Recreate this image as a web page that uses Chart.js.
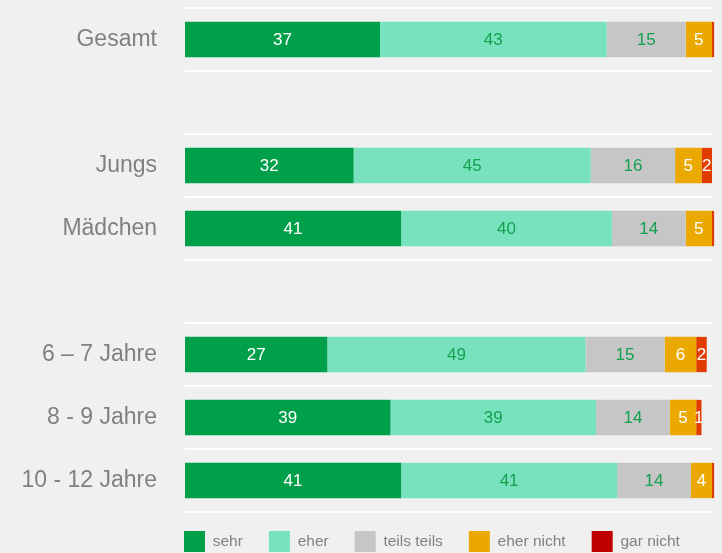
<!DOCTYPE html>
<html>
<head>
<meta charset="utf-8">
<script src="https://cdn.jsdelivr.net/npm/chart.js@4/dist/chart.umd.min.js"></script>
<style>
html,body{margin:0;padding:0;background:#f0f0f0;}
#wrap{width:722px;height:553px;position:relative;}
canvas{display:block;}
</style>
</head>
<body>
<div id="wrap"><canvas id="c" width="722" height="553"></canvas></div>
<script>
// ---- data ----
const categories = ['Gesamt', '', 'Jungs', 'Mädchen', '', '6 – 7 Jahre', '8 - 9 Jahre', '10 - 12 Jahre'];
const seriesNames = ['sehr', 'eher', 'teils teils', 'eher nicht', 'gar nicht'];
const sehr      = [37, null, 32, 41, null, 27, 39, 41];
const eher      = [43, null, 45, 40, null, 49, 39, 41];
const teilsTeils= [15, null, 16, 14, null, 15, 14, 14];
const eherNicht = [5,  null, 5,  5,  null, 6,  5,  4];
const garNicht  = [0.4, null, 2, 0.4, null, 2, 1, 0.4];

// ---- styles ----
const barColors   = ['#00a04b', '#78e2bf', '#c6c6c6', '#eba900', '#e03c00'];
const legendColors= ['#00a04b', '#78e2bf', '#c6c6c6', '#eba900', '#c00000'];
const labelColors = ['#ffffff', '#13a04f', '#13a04f', '#ffffff', '#ffffff'];
const TEXT_GRAY = '#808080';
const FONT = '"Liberation Sans", Arial, sans-serif';

const seriesData = [sehr, eher, teilsTeils, eherNicht, garNicht];

const barLabels = {
  id: 'barLabels',
  afterDatasetsDraw(chart) {
    const ctx = chart.ctx;
    chart.data.datasets.forEach((ds, i) => {
      const meta = chart.getDatasetMeta(i);
      meta.data.forEach((bar, j) => {
        const v = ds.data[j];
        if (v == null || v < 1) return;
        const p = bar.getProps(['x', 'y', 'base'], true);
        ctx.save();
        ctx.fillStyle = labelColors[i];
        ctx.font = '17px ' + FONT;
        ctx.textAlign = 'center';
        ctx.textBaseline = 'middle';
        ctx.fillText(String(v), (p.x + p.base) / 2, p.y + 1);
        ctx.restore();
      });
    });
  }
};

const legendTweak = {
  id: 'legendTweak',
  beforeLayout(chart) {
    const lg = chart.legend;
    if (lg && !lg._patched) {
      const f = lg.fit;
      lg.fit = function () { f.call(this); this.height = 41; };
      lg._patched = true;
    }
  },
  beforeDraw(chart) {
    const lg = chart.legend;
    if (!lg) return;
    const pad = lg.options.labels.padding;
    lg.left = chart.chartArea.left - 1 - pad;
    lg.right = chart.width;
    lg.width = lg.right - lg.left;
    lg.top = chart.chartArea.bottom + 19 - pad;
  }
};

new Chart(document.getElementById('c'), {
  type: 'bar',
  data: {
    labels: categories,
    datasets: seriesNames.map((name, i) => ({
      label: name,
      data: seriesData[i],
      backgroundColor: barColors[i],
      borderWidth: 0,
      clip: false,
      categoryPercentage: 1,
      barPercentage: 0.56
    }))
  },
  options: {
    indexAxis: 'y',
    responsive: false,
    animation: false,
    devicePixelRatio: 1,
    layout: { padding: { top: 8, right: 10, left: 0, bottom: 0 } },
    scales: {
      x: { stacked: true, min: 0, max: 100, display: false },
      y: {
        stacked: true,
        afterFit(scale) { scale.width = 185; scale.paddingTop = 0; scale.paddingBottom = 0; },
        border: { display: false },
        grid: { color: '#ffffff', lineWidth: 2, drawTicks: false, offset: true },
        ticks: { color: TEXT_GRAY, font: { family: FONT, size: 23 }, padding: 28 }
      }
    },
    plugins: {
      tooltip: { enabled: false },
      legend: {
        position: 'bottom',
        align: 'start',
        labels: {
          boxWidth: 21,
          boxHeight: 21,
          padding: 26,
          color: TEXT_GRAY,
          font: { family: FONT, size: 15.5 },
          generateLabels(chart) {
            return chart.data.datasets.map((ds, i) => ({
              text: ds.label,
              fillStyle: legendColors[i],
              strokeStyle: legendColors[i],
              fontColor: TEXT_GRAY,
              lineWidth: 0,
              hidden: false,
              datasetIndex: i
            }));
          }
        }
      }
    }
  },
  plugins: [barLabels, legendTweak]
});
</script>
</body>
</html>
